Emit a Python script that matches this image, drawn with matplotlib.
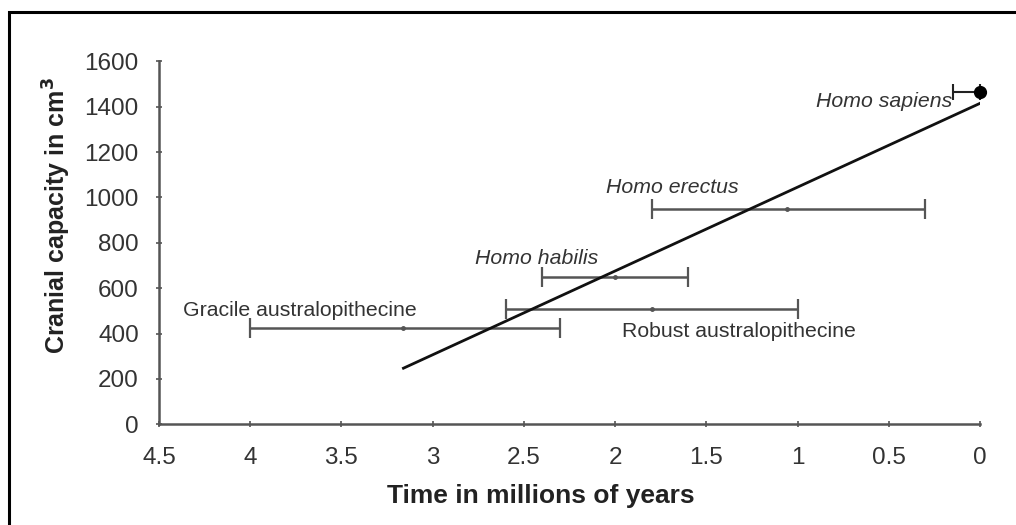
import matplotlib.pyplot as plt
from matplotlib.patches import Rectangle

plt.rcParams['font.family'] = ['Liberation Sans', 'DejaVu Sans']

# species ranges (millions of years ago) and cranial capacity (cm3)
species = ['Gracile australopithecine', 'Robust australopithecine',
           'Homo habilis', 'Homo erectus', 'Homo sapiens']
t_mid = [3.16, 1.8, 2.0, 1.06, 0.0]
t_old = [4.0, 2.6, 2.4, 1.8, 0.15]
t_young = [2.3, 1.0, 1.6, 0.3, 0.0]
capacity = [423, 507, 648, 948, 1463]

# trend line
trend_t = [3.16, 0.0]
trend_cc = [247, 1415]

fig = plt.figure(figsize=(10.16, 5.25), dpi=100)
ax = fig.add_axes([0.1565, 0.192, 0.808, 0.691])

grey = '#555555'
for i in range(len(species)):
    xerr = [[t_mid[i] - t_young[i]], [t_old[i] - t_mid[i]]]
    if species[i] == 'Homo sapiens':
        ax.errorbar([t_mid[i]], [capacity[i]], xerr=xerr, fmt='o', color='black',
                    ecolor='#222222', ms=8.5, elinewidth=1.5, capsize=6,
                    capthick=1.5, clip_on=False)
    else:
        ax.errorbar([t_mid[i]], [capacity[i]], xerr=xerr, fmt='o', color=grey,
                    ms=2.5, ecolor=grey, elinewidth=1.8, capsize=7, capthick=1.6)

ax.plot(trend_t, trend_cc, color='#111111', lw=2)

txt = '#333333'
fs = 15.3
ax.text(4.37, 500, species[0], fontsize=fs, color=txt, va='center', ha='left')
ax.text(1.96, 410, species[1], fontsize=fs, color=txt, va='center', ha='left')
ax.text(2.77, 733, species[2], fontsize=fs, color=txt, va='center', ha='left',
        style='italic')
ax.text(2.05, 1043, species[3], fontsize=fs, color=txt, va='center', ha='left',
        style='italic')
ax.text(0.15, 1425, species[4], fontsize=fs, color=txt, va='center', ha='right',
        style='italic')

ax.set_xlim(4.5, 0)
ax.set_ylim(0, 1600)
ax.set_xticks([4.5, 4, 3.5, 3, 2.5, 2, 1.5, 1, 0.5, 0])
ax.set_xticklabels(['4.5', '4', '3.5', '3', '2.5', '2', '1.5', '1', '0.5', '0'])
ax.set_yticks(range(0, 1601, 200))
for s in ['top', 'right']:
    ax.spines[s].set_visible(False)
for s in ['left', 'bottom']:
    ax.spines[s].set_color(grey)
    ax.spines[s].set_linewidth(1.8)
ax.tick_params(axis='both', colors=grey, labelcolor='#333333', labelsize=17.5,
               length=5, width=1.2, direction='inout')
ax.tick_params(axis='y', pad=12)
ax.tick_params(axis='x', pad=14)
ax.set_xlabel('Time in millions of years', fontsize=19, fontweight='bold',
              color='#222222')
ax.set_ylabel('Cranial capacity in cm$^\\mathbf{3}$', fontsize=18, fontweight='bold',
              color='#222222')
ax.xaxis.set_label_coords(0.465, -0.165)
ax.yaxis.set_label_coords(-0.105, 0.576)

# outer frame
fig.patches.append(Rectangle((0.009, -0.02), 1.0, 0.998, transform=fig.transFigure,
                             fill=False, edgecolor='black', lw=2.2))

fig.savefig('out.png', dpi=100)
